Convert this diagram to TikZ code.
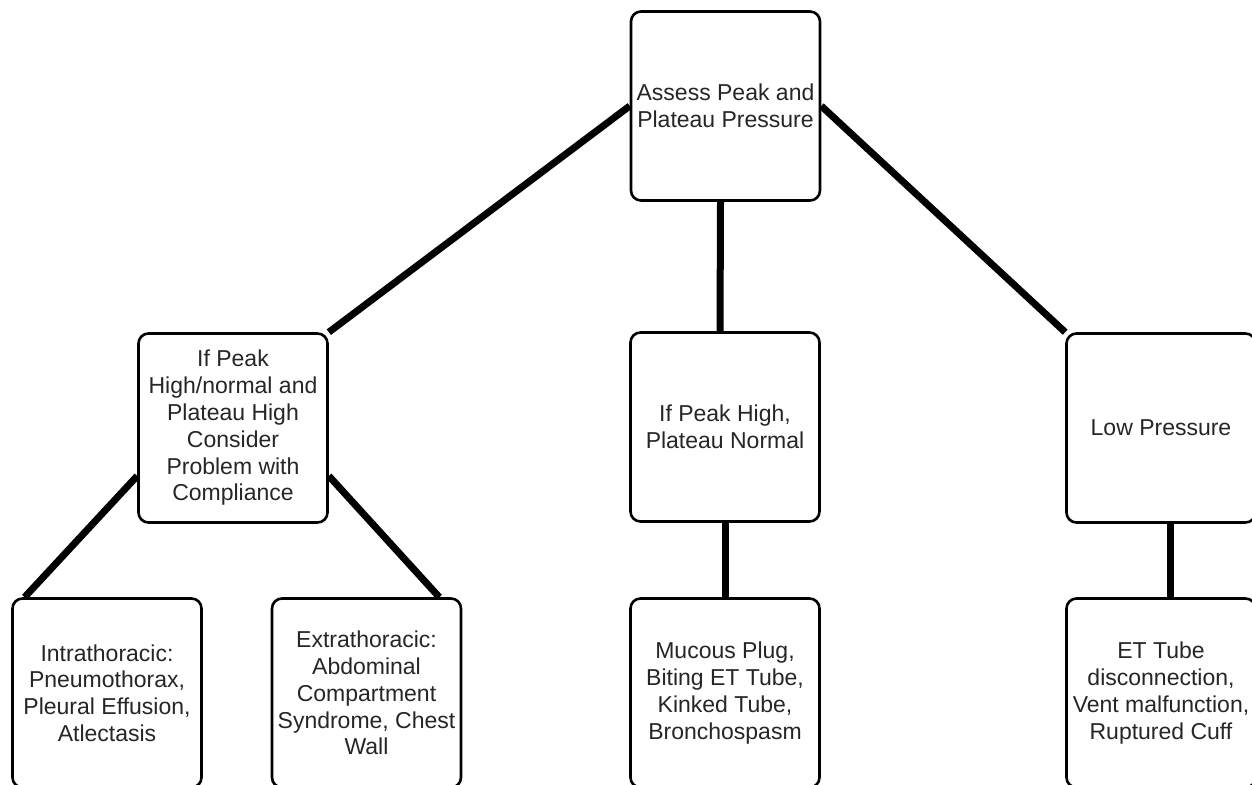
\documentclass[tikz,border=0pt]{standalone}
\usepackage{fontspec}
\setmainfont{Liberation Sans}
\usetikzlibrary{calc}
\begin{document}
\begin{tikzpicture}[x=1pt,y=-1pt,
  box/.style={draw=black, line width=2.6pt, rounded corners=10pt, fill=white,
    minimum width=189pt, minimum height=189pt, inner sep=0pt, align=center,
    font=\fontsize{23}{26.8}\selectfont, text=black!85},
  link/.style={line width=7pt, draw=black}]
\useasboundingbox (0,0) rectangle (1252,784);
\clip (0,0) rectangle (1252,784);
\fill[white] (0,0) rectangle (1252,784);
% nodes
\node[box] (T) at (725.5,106) {Assess Peak and\\Plateau Pressure};
\node[box] (L) at (233,428) {If Peak\\High/normal and\\Plateau High\\Consider\\Problem with\\Compliance};
\node[box] (C) at (725,427) {If Peak High,\\Plateau Normal};
\node[box] (R) at (1161,428) {Low Pressure};
\node[box] (B1) at (107,693) {Intrathoracic:\\Pneumothorax,\\Pleural Effusion,\\Atlectasis};
\node[box] (B2) at (366.5,693) {Extrathoracic:\\Abdominal\\Compartment\\Syndrome, Chest\\Wall};
\node[box] (B3) at (725,693) {Mucous Plug,\\Biting ET Tube,\\Kinked Tube,\\Bronchospasm};
\node[box] (B4) at (1161,693) {ET Tube\\disconnection,\\Vent malfunction,\\Ruptured Cuff};
% connectors
\draw[link] (T.west) -- (L.north east);
\draw[link] (T.east) -- (R.north west);
\draw[link] ($(T.south)+(-5,0)$) -- ($(C.north)+(-5,0)$);
\draw[link] (C.south) -- (B3.north);
\draw[link] ($(L.north west)!0.75!(L.south west)$) -- ($(B1.north west)!0.07!(B1.north east)$);
\draw[link] ($(L.north east)!0.75!(L.south east)$) -- ($(B2.north west)!0.88!(B2.north east)$);
\draw[link] ($(R.south)+(9,0)$) -- ($(B4.north)+(9,0)$);
\end{tikzpicture}
\end{document}
